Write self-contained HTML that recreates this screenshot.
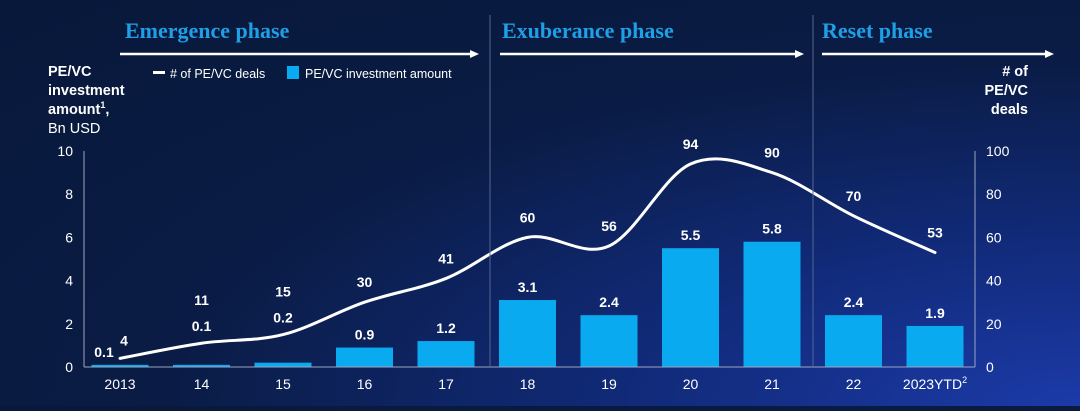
<!DOCTYPE html>
<html><head><meta charset="utf-8"><style>
html,body{margin:0;padding:0}
body{width:1080px;height:406px;overflow:hidden;background:radial-gradient(ellipse at 100% 100%,#1c3aa8 0%,#112a78 30%,#0a1c45 60%,#08183a 100%);font-family:"Liberation Sans",sans-serif}
svg text{font-family:"Liberation Sans",sans-serif}
</style></head><body>
<svg width="1080" height="406">
<script>
const categories=["2013","14","15","16","17","18","19","20","21","22","2023YTD"];
const amounts=[0.1,0.1,0.2,0.9,1.2,3.1,2.4,5.5,5.8,2.4,1.9];
const deals=[4,11,15,30,41,60,56,94,90,70,53];
const leftTicks=[0,2,4,6,8,10];
const rightTicks=[0,20,40,60,80,100];
</script>
<g id="g"></g>
<g>
<line x1="490" y1="15" x2="490" y2="367" stroke="#55678f" stroke-width="1"/>
<line x1="813" y1="15" x2="813" y2="367" stroke="#55678f" stroke-width="1"/>
<text x="125" y="38" font-weight="bold" font-size="22" fill="#1f9fe6" style="font-family:'Liberation Serif',serif">Emergence phase</text>
<text x="502" y="38" font-weight="bold" font-size="22" fill="#1f9fe6" style="font-family:'Liberation Serif',serif">Exuberance phase</text>
<text x="822" y="38" font-weight="bold" font-size="22" fill="#1f9fe6" style="font-family:'Liberation Serif',serif">Reset phase</text>
<g stroke="#fff" stroke-width="2.5" fill="#fff">
<line x1="120" y1="54" x2="470" y2="54"/><polygon points="470,50 479,54 470,58" stroke="none"/>
<line x1="500" y1="54" x2="795" y2="54"/><polygon points="795,50 804,54 795,58" stroke="none"/>
<line x1="822" y1="54" x2="1045" y2="54"/><polygon points="1045,50 1054,54 1045,58" stroke="none"/>
</g></g>
<g font-size="12.5" fill="#fff">
<rect x="153" y="71" width="12" height="3" fill="#fff"/>
<text x="170" y="78" fill="#fff"># of PE/VC deals</text>
<rect x="287" y="66" width="12" height="13" fill="#0aaaf0"/>
<text x="305" y="78" fill="#fff">PE/VC investment amount</text>
</g>
<g font-size="14.5" fill="#fff">
<text x="48" y="76" font-weight="bold">PE/VC</text>
<text x="48" y="95" font-weight="bold">investment</text>
<text x="48" y="114" font-weight="bold">amount<tspan font-size="9" dy="-6">1</tspan><tspan dy="6">,</tspan></text>
<text x="48" y="133">Bn USD</text>
</g>
<g font-size="14.5" fill="#fff" font-weight="bold" text-anchor="end">
<text x="1028" y="76">#  of</text><text x="1028" y="95">PE/VC</text><text x="1028" y="114">deals</text>
</g>
</svg>
<script>
const NS="http://www.w3.org/2000/svg";
const g=document.getElementById('g');
const x0=120,step=81.5,yb=367,yt=151;
const xs=i=>x0+i*step;
const yL=v=>yb-(v/10)*(yb-yt);
const yR=v=>yb-(v/100)*(yb-yt);
function mk(t,a,txt){const e=document.createElementNS(NS,t);for(const k in a)e.setAttribute(k,a[k]);if(txt!==undefined)e.textContent=txt;g.appendChild(e);return e;}
let e;
e=mk('line',{x1:84,y1:yt,x2:84,y2:yb,stroke:'#9aa6c0','stroke-width':1});


e=mk('line',{x1:975,y1:yt,x2:975,y2:yb,stroke:'#9aa6c0','stroke-width':1});


leftTicks.forEach(v=>{e=mk('text',{x:73,y:yL(v)+5,'text-anchor':'end','font-size':14,fill:'#fff'},v);

});
rightTicks.forEach(v=>{e=mk('text',{x:986,y:yR(v)+5,'font-size':14,fill:'#fff'},v);

});
const crowded=amounts.map((v,i)=>i>0&&yL(v)-yR(deals[i])<30&&yL(v)-yR(deals[i])>-5);
amounts.forEach((v,i)=>{
 e=mk('rect',{x:xs(i)-28.5,y:yL(v),width:57,height:yb-yL(v),fill:'#0aaaf0'});
 
 
 const ly=crowded[i]?yR(deals[i])-12:yL(v)-8;
 e=mk('text',{x:i==0?xs(i)-16:xs(i),y:ly,'text-anchor':'middle','font-size':14,'font-weight':'bold',fill:'#fff'},v.toFixed(1));
 
 
 e=mk('text',{x:xs(i),y:389,'text-anchor':'middle','font-size':14,fill:'#fff'},categories[i]);
 if(i==categories.length-1){const ts=document.createElementNS(NS,'tspan');ts.setAttribute('font-size','9');ts.setAttribute('dy','-6');ts.textContent='2';e.appendChild(ts);}
 
 
});
e=mk('line',{x1:84,y1:yb,x2:975,y2:yb,stroke:'#9aa6c0','stroke-width':1});


const P=deals.map((v,i)=>[xs(i),yR(v)]);
let d='M'+P[0][0]+','+P[0][1];
for(let i=0;i<P.length-1;i++){const p0=P[Math.max(0,i-1)],p1=P[i],p2=P[i+1],p3=P[Math.min(P.length-1,i+2)];
 d+=' C'+(p1[0]+(p2[0]-p0[0])/6)+','+(p1[1]+(p2[1]-p0[1])/6)+' '+(p2[0]-(p3[0]-p1[0])/6)+','+(p2[1]-(p3[1]-p1[1])/6)+' '+p2[0]+','+p2[1];}
e=mk('path',{d:d,fill:'none',stroke:'#fff','stroke-width':3,'stroke-linecap':'round'});


deals.forEach((v,i)=>{
 const off=i==0?13:(crowded[i]?38:15);
 e=mk('text',{x:i==0?xs(i)+4:xs(i),y:yR(v)-off,'text-anchor':'middle','font-size':14,'font-weight':'bold',fill:'#fff'},v);
 
 
});
</script>
</body></html>
